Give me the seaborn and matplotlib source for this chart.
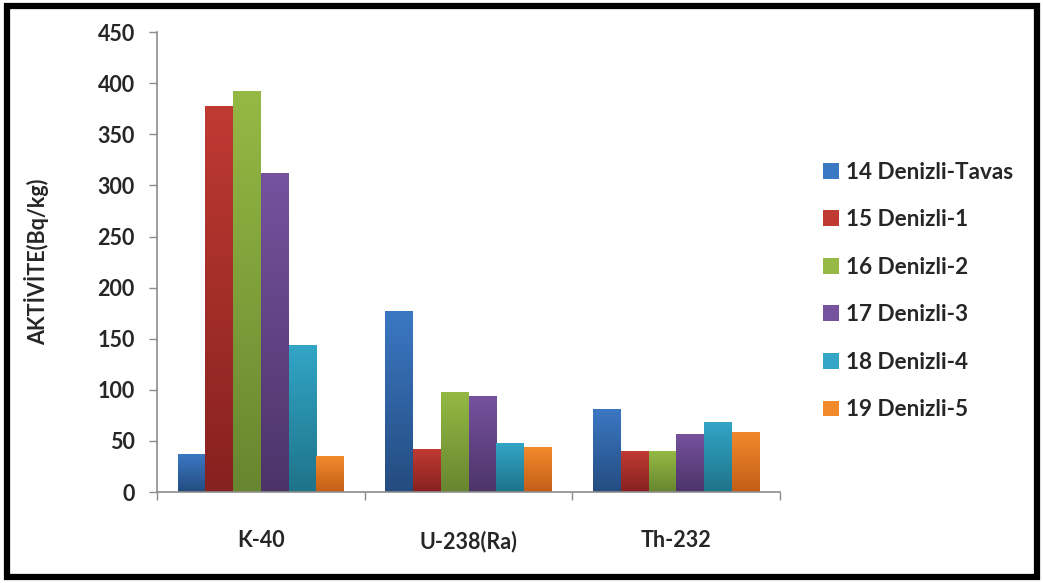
import numpy as np
import pandas as pd
import matplotlib
matplotlib.use("Agg")
import matplotlib.pyplot as plt
import matplotlib.patches as mpatches
from matplotlib.colors import to_rgb
import seaborn as sns

# Radionuclide activity per sampling site (Bq/kg)
nuclides = ["K-40", "U-238(Ra)", "Th-232"]
sites = ["14 Denizli-Tavas", "15 Denizli-1", "16 Denizli-2",
         "17 Denizli-3", "18 Denizli-4", "19 Denizli-5"]
tavas = [37, 177, 81]
denizli_1 = [378, 42, 40]
denizli_2 = [392, 98, 40]
denizli_3 = [312, 94, 57]
denizli_4 = [144, 48, 69]
denizli_5 = [35, 44, 59]
series = [tavas, denizli_1, denizli_2, denizli_3, denizli_4, denizli_5]

# top / bottom shades for each site's gradient fill
tops = ["#3b78c3", "#c03a33", "#95b944", "#77529f", "#33a6c7", "#f28a2b"]
bottoms = ["#244c80", "#86211f", "#678630", "#4c3469", "#1e7389", "#c25e18"]

df = pd.DataFrame(
    [(n, s, v[i]) for s, v in zip(sites, series) for i, n in enumerate(nuclides)],
    columns=["nuclide", "site", "activity"],
)

sns.set_style("white")
plt.rcParams["font.family"] = ["Lato", "DejaVu Sans"]
plt.rcParams["font.weight"] = "bold"

fig = plt.figure(figsize=(10.43, 5.83), dpi=100)
ax = fig.add_axes([0.1505, 0.156, 0.5975, 0.789])

sns.barplot(data=df, x="nuclide", y="activity", hue="site", order=nuclides,
            hue_order=sites, palette=tops, width=0.8, saturation=1,
            edgecolor="none", linewidth=0, ax=ax, legend=True)

# vertical gradient inside every bar
grad = np.linspace(0, 1, 256).reshape(-1, 1)
bars = [p for p in ax.patches if isinstance(p, mpatches.Rectangle) and p.get_height() > 0]
for bar in bars:
    fc = to_rgb(bar.get_facecolor())
    idx = min(range(len(tops)), key=lambda k: sum(abs(a - b) for a, b in zip(to_rgb(tops[k]), fc)))
    c_top = np.array(to_rgb(tops[idx]))
    c_bot = np.array(to_rgb(bottoms[idx]))
    img = c_bot[None, None, :] * (1 - grad[..., None]) + c_top[None, None, :] * grad[..., None]
    x0, y0 = bar.get_x(), bar.get_y()
    w, h = bar.get_width(), bar.get_height()
    im = ax.imshow(img, extent=[x0, x0 + w, y0, y0 + h], origin="lower",
                   aspect="auto", zorder=bar.get_zorder() + 0.1, interpolation="bilinear")
    im.set_clip_path(bar)

ax.set_xlim(-0.5, 2.5)
ax.set_ylim(0, 450)
ax.set_yticks(np.arange(0, 451, 50))
ax.set_xticks(range(3))
ax.set_xticklabels(nuclides)
ax.set_xticks([-0.5, 0.5, 1.5, 2.5], minor=True)
ax.set_xlabel("")
ax.set_ylabel("AKTİVİTE(Bq/kg)", fontsize=15.5, fontweight="bold", labelpad=35)

for side in ["top", "right"]:
    ax.spines[side].set_visible(False)
for side in ["left", "bottom"]:
    ax.spines[side].set_color("#8c8c8c")
    ax.spines[side].set_linewidth(1.2)

ax.tick_params(axis="y", which="major", left=True, length=6, width=1, color="#8c8c8c",
               labelsize=15.5, pad=10)
ax.tick_params(axis="x", which="major", bottom=False, labelsize=15.5, pad=24)
ax.tick_params(axis="x", which="minor", bottom=True, length=6, width=1, color="#8c8c8c")
for lbl in ax.get_xticklabels() + ax.get_yticklabels():
    lbl.set_fontweight("bold")

handles = [mpatches.Patch(facecolor=t, edgecolor="none") for t in tops]
ax.legend(handles, sites, loc="upper left", bbox_to_anchor=(1.055, 0.738),
          frameon=False, prop={"size": 16.2, "weight": "bold"},
          handlelength=0.7, handleheight=0.7, handletextpad=0.3,
          labelspacing=1.18, borderaxespad=0)

# black frame around the whole chart
fig.patches.append(mpatches.Rectangle((0.0065, 0.0105), 0.9875, 0.979,
                                      transform=fig.transFigure, fill=False,
                                      edgecolor="black", linewidth=4.5))

fig.savefig("out.png", dpi=100)
